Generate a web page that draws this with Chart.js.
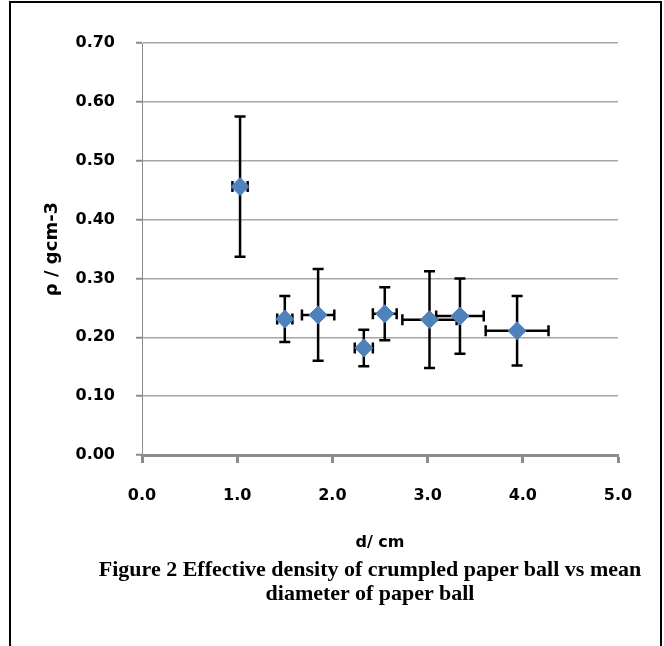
<!DOCTYPE html>
<html>
<head>
<meta charset="utf-8">
<script src="https://cdn.jsdelivr.net/npm/chart.js@4"></script>
<style>
  body{margin:0;background:#fff;}
  #frame{position:absolute;left:9px;top:1px;width:649px;height:700px;border:2px solid #000;}
  #wrap{position:absolute;left:0;top:0;width:664px;height:560px;}
  #caption{position:absolute;left:70px;top:557px;width:600px;text-align:center;
    font:bold 22px/24px "Liberation Serif","Times New Roman",serif;color:#000;}
</style>
</head>
<body>
<div id="frame"></div>
<div id="wrap"><canvas id="chart"></canvas></div>
<div id="caption">Figure 2 Effective density of crumpled paper ball vs mean<br>diameter of paper ball</div>
<script>
// mean diameter d (cm) and effective density (g cm-3), with error bars
const diameter    = [1.03, 1.50, 1.85, 2.33, 2.55, 3.02, 3.34, 3.94];
const diameterErr = [0.08, 0.08, 0.17, 0.095, 0.125, 0.285, 0.25, 0.33];
const density     = [0.456, 0.231, 0.238, 0.182, 0.240, 0.230, 0.236, 0.211];
const densityErr  = [0.119, 0.039, 0.078, 0.031, 0.045, 0.082, 0.064, 0.059];

const xTicks = [0, 1, 2, 3, 4, 5];
const yTicks = [0, 0.1, 0.2, 0.3, 0.4, 0.5, 0.6, 0.7];

const tickFont = {family:'"DejaVu Sans", sans-serif', size:16, weight:'bold'};
const axisGrey = '#8c8c8c';

// draw x/y error bars under the markers
const errorBars = {
  id:'errorBars',
  beforeDatasetsDraw(chart){
    const {ctx, scales:{x, y}} = chart;
    const cap = 5.5;
    ctx.save();
    ctx.strokeStyle = '#000';
    ctx.lineWidth = 2.5;
    diameter.forEach((d, i) => {
      const px = x.getPixelForValue(d), py = y.getPixelForValue(density[i]);
      const y1 = y.getPixelForValue(density[i] - densityErr[i]);
      const y2 = y.getPixelForValue(density[i] + densityErr[i]);
      const x1 = x.getPixelForValue(d - diameterErr[i]);
      const x2 = x.getPixelForValue(d + diameterErr[i]);
      ctx.beginPath();
      ctx.moveTo(px, y1); ctx.lineTo(px, y2);
      ctx.moveTo(px - cap, y1); ctx.lineTo(px + cap, y1);
      ctx.moveTo(px - cap, y2); ctx.lineTo(px + cap, y2);
      ctx.moveTo(x1, py); ctx.lineTo(x2, py);
      ctx.moveTo(x1, py - cap); ctx.lineTo(x1, py + cap);
      ctx.moveTo(x2, py - cap); ctx.lineTo(x2, py + cap);
      ctx.stroke();
    });
    ctx.restore();
  }
};

new Chart(document.getElementById('chart'), {
  type:'scatter',
  data:{
    datasets:[{
      data: diameter.map((d, i) => ({x:d, y:density[i]})),
      pointStyle:'rectRot',
      pointRadius:9,
      backgroundColor:'#4F81BD',
      borderColor:'#4F81BD',
      borderWidth:1
    }]
  },
  options:{
    responsive:true,
    maintainAspectRatio:false,
    animation:false,
    events:[],
    layout:{padding:{left:0, right:46, top:43, bottom:0}},
    plugins:{legend:{display:false}, tooltip:{enabled:false}},
    scales:{
      x:{
        type:'linear', min:0, max:5,
        afterBuildTicks: s => { s.ticks = xTicks.map(v => ({value:v})); },
        afterFit: s => { s.height = 105; },
        ticks:{font:tickFont, color:'#000', padding:23, callback: v => v.toFixed(1)},
        grid:{drawOnChartArea:false, tickLength:8, tickWidth:3, tickColor:axisGrey},
        border:{color:axisGrey, width:3},
        title:{display:true, text:'d/ cm', color:'#000', font:tickFont, padding:{top:0, bottom:8}}
      },
      y:{
        type:'linear', min:0, max:0.7,
        afterBuildTicks: s => { s.ticks = yTicks.map(v => ({value:v})); },
        afterFit: s => { s.width = 142; },
        ticks:{font:tickFont, color:'#000', padding:21, callback: v => v.toFixed(2)},
        grid:{
          color: c => (c.tick && c.tick.value === 0) ? 'rgba(0,0,0,0)' : '#a6a6a6',
          lineWidth:1.5, tickLength:6, tickWidth:2, tickColor:axisGrey
        },
        border:{color:axisGrey, width:1},
        title:{display:true, text:'ρ / gcm-3', color:'#000',
          font:{family:'"DejaVu Sans", sans-serif', size:18, weight:'bold'}, padding:{top:42, bottom:0}}
      }
    }
  },
  plugins:[errorBars]
});
</script>
</body>
</html>
